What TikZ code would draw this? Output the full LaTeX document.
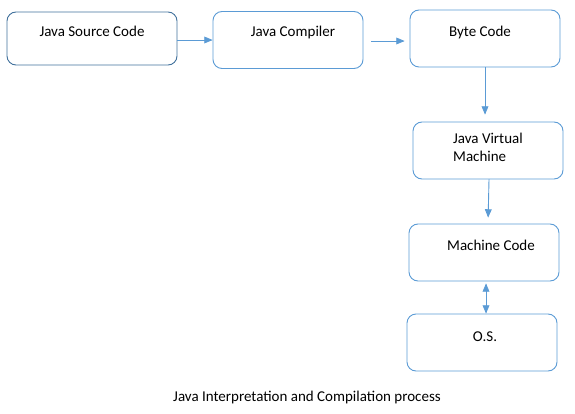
\documentclass[tikz,border=0pt]{standalone}
\usepackage{fontspec}
\setmainfont{Carlito}
\usepackage{tikz}
\usetikzlibrary{arrows}
\definecolor{lineblue}{rgb}{0.357,0.608,0.835}
\definecolor{darkblue}{rgb}{0.255,0.443,0.612}
\tikzset{
  box/.style={draw=lineblue,line width=0.9pt,rounded corners=9pt,minimum width=150pt,minimum height=57pt,inner sep=0pt},
  lbl/.style={font=\fontsize{15}{18}\selectfont,inner sep=0pt},
  flow/.style={draw=lineblue,line width=0.9pt,->}
}

\begin{document}
\begin{tikzpicture}[line cap=round,line join=round,>=triangle 45,x=1pt,y=-1pt]
\useasboundingbox (0,0) rectangle (575,414);
\node [box,draw=darkblue,minimum width=170pt,minimum height=53pt] (src) at (92,38.5) {};
\node [box] (comp) at (288,40) {};
\node [box] (byte) at (485,38.5) {};
\node [box] (jvm) at (488,150.5) {};
\node [box] (mc) at (484,252.5) {};
\node [box] (os) at (482,342.5) {};
\node [lbl] (srct) at ([yshift=-20pt]src.north) {Java Source Code};
\node [lbl] (compt) at ([yshift=-21pt,xshift=5pt]comp.north) {Java Compiler};
\node [lbl] (bytet) at ([yshift=-23pt,xshift=-5pt]byte.north) {Byte Code};
\node [lbl,align=left,anchor=north west] (jvmt) at (453,133) {Java Virtual\\Machine};
\node [lbl] (mct) at ([yshift=-22pt,xshift=7pt]mc.north) {Machine Code};
\node [lbl] (ost) at ([yshift=-23pt,xshift=3pt]os.north) {O.S.};
\draw [flow] ([yshift=-1.5pt]src.east) -- (comp.west);
\draw [flow,shorten <=8pt,shorten >=5pt] ([yshift=-1pt]comp.east) -- ([yshift=-2.5pt]byte.west);
\draw [flow,shorten >=7pt] (byte.south) -- ([xshift=-3pt]jvm.north);
\draw [flow,shorten >=6pt] ([xshift=1pt]jvm.south) -- ([xshift=4pt]mc.north);
\draw [flow,<->,shorten <=2pt] ([xshift=2pt]mc.south) -- ([xshift=4pt]os.north);
\node [lbl] (title) at (307,397) {Java Interpretation and Compilation process};
\end{tikzpicture}
\end{document}
